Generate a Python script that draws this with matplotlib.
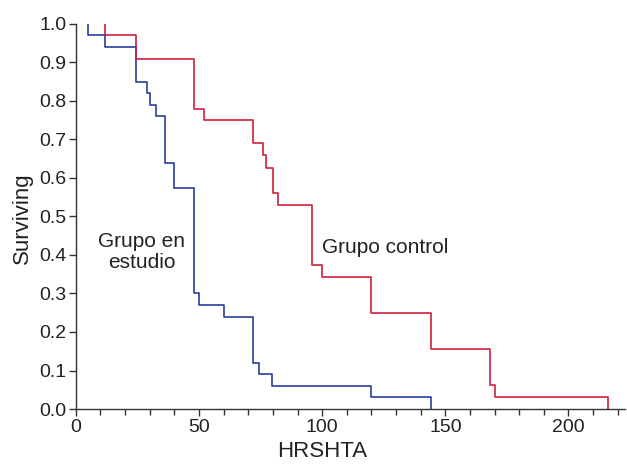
import numpy as np
import matplotlib
matplotlib.use("Agg")
import matplotlib.pyplot as plt
from matplotlib.ticker import MultipleLocator

plt.rcParams["font.family"] = ["Liberation Sans", "DejaVu Sans"]

# Kaplan-Meier steps
estudio_t = [5, 5, 12, 24.5, 29, 30, 32.4, 36.3, 40, 48, 49.8, 60, 72, 74.5, 79.8, 120, 144]
estudio_s = [1.0, 0.97, 0.94, 0.85, 0.82, 0.79, 0.76, 0.64, 0.575, 0.30, 0.27, 0.24, 0.12, 0.09, 0.06, 0.03, 0.0]

control_t = [12, 12, 24.5, 48, 52, 72, 76, 77, 80, 82, 96, 100, 120, 144, 168, 170, 216]
control_s = [1.0, 0.97, 0.91, 0.78, 0.75, 0.69, 0.66, 0.625, 0.56, 0.53, 0.375, 0.344, 0.25, 0.156, 0.0625, 0.031, 0.0]

fig = plt.figure(figsize=(6.27, 4.68), dpi=100)
ax = fig.add_axes([0.121, 0.126, 0.876, 0.823])

ax.step(estudio_t, estudio_s, where="post", color="#2b3c9c", linewidth=1.2)
ax.step(control_t, control_s, where="post", color="#cf1f3c", linewidth=1.2)

ax.text(26.8, 0.408, "Grupo en\nestudio", ha="center", va="center",
        fontsize=15, color="#222222", linespacing=1.15)
ax.text(100, 0.42, "Grupo control", ha="left", va="center",
        fontsize=15, color="#222222")

ax.set_xlim(0, 223)
ax.set_ylim(0, 1.0)
ax.xaxis.set_major_locator(MultipleLocator(50))
ax.xaxis.set_minor_locator(MultipleLocator(10))
ax.yaxis.set_major_locator(MultipleLocator(0.1))
ax.yaxis.set_major_formatter(plt.FuncFormatter(lambda v, p: f"{v:.1f}"))

for s in ["top", "right"]:
    ax.spines[s].set_visible(False)
for s in ["left", "bottom"]:
    ax.spines[s].set_color("#333333")
    ax.spines[s].set_linewidth(1.0)

ax.tick_params(axis="both", which="major", length=5, width=1, color="#333333",
               labelsize=14, labelcolor="#222222", pad=2)
ax.tick_params(axis="x", which="minor", length=4, width=1, color="#333333")

ax.set_xlabel("HRSHTA", fontsize=16, color="#222222")
ax.set_ylabel("Surviving", fontsize=16, color="#222222")
ax.xaxis.set_label_coords(0.448, -0.084)
ax.yaxis.set_label_coords(-0.078, 0.495)

fig.savefig("out.png", dpi=100)
